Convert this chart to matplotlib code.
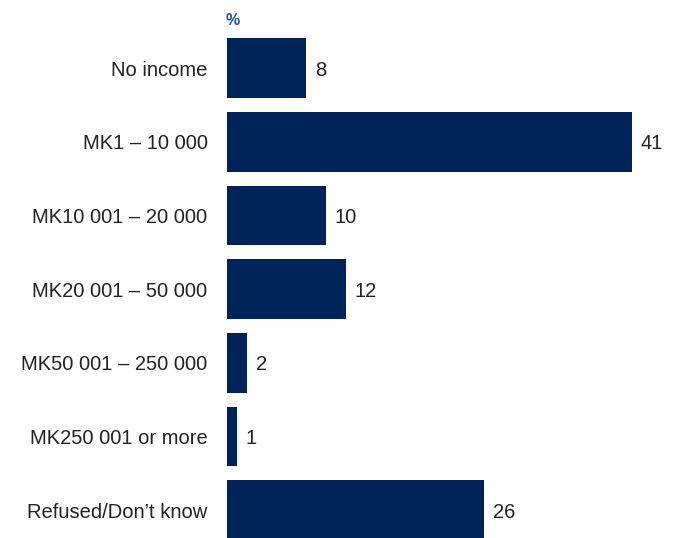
import matplotlib
matplotlib.use("Agg")
import matplotlib.pyplot as plt
from matplotlib import font_manager

categories = [
    "No income",
    "MK1 \u2013 10 000",
    "MK10 001 \u2013 20 000",
    "MK20 001 \u2013 50 000",
    "MK50 001 \u2013 250 000",
    "MK250 001 or more",
    "Refused/Don\u2019t know",
]
values = [8, 41, 10, 12, 2, 1, 26]

BAR_COLOR = "#00245a"

names = {f.name for f in font_manager.fontManager.ttflist}
family = "Liberation Sans Narrow" if "Liberation Sans Narrow" in names else "Liberation Sans"
plt.rcParams["font.family"] = [family, "DejaVu Sans"]

fig = plt.figure(figsize=(6.8, 5.38), dpi=100)
ax = fig.add_axes([227 / 680, 0, 405 / 680, 1])

pos = list(range(len(categories)))
ax.barh(pos, values, height=0.81, color=BAR_COLOR)

ax.set_xlim(0, 41)
ax.set_ylim(6.377, -0.923)
ax.set_yticks(pos)
ax.set_yticklabels(categories, fontsize=14.5, color="#222222")
ax.tick_params(axis="y", length=0, pad=14)
ax.set_xticks([])
for s in ax.spines.values():
    s.set_visible(False)

for p, v in zip(pos, values):
    ax.text(v + 0.9, p, str(v), va="center_baseline", ha="left",
            fontsize=14.5, color="#222222", clip_on=False)

ax.text(-0.1, -0.65, "%", fontsize=11.5, fontweight="bold", color="#1f4e9a",
        ha="left", va="center", clip_on=False)

fig.savefig("out.png", dpi=100)
